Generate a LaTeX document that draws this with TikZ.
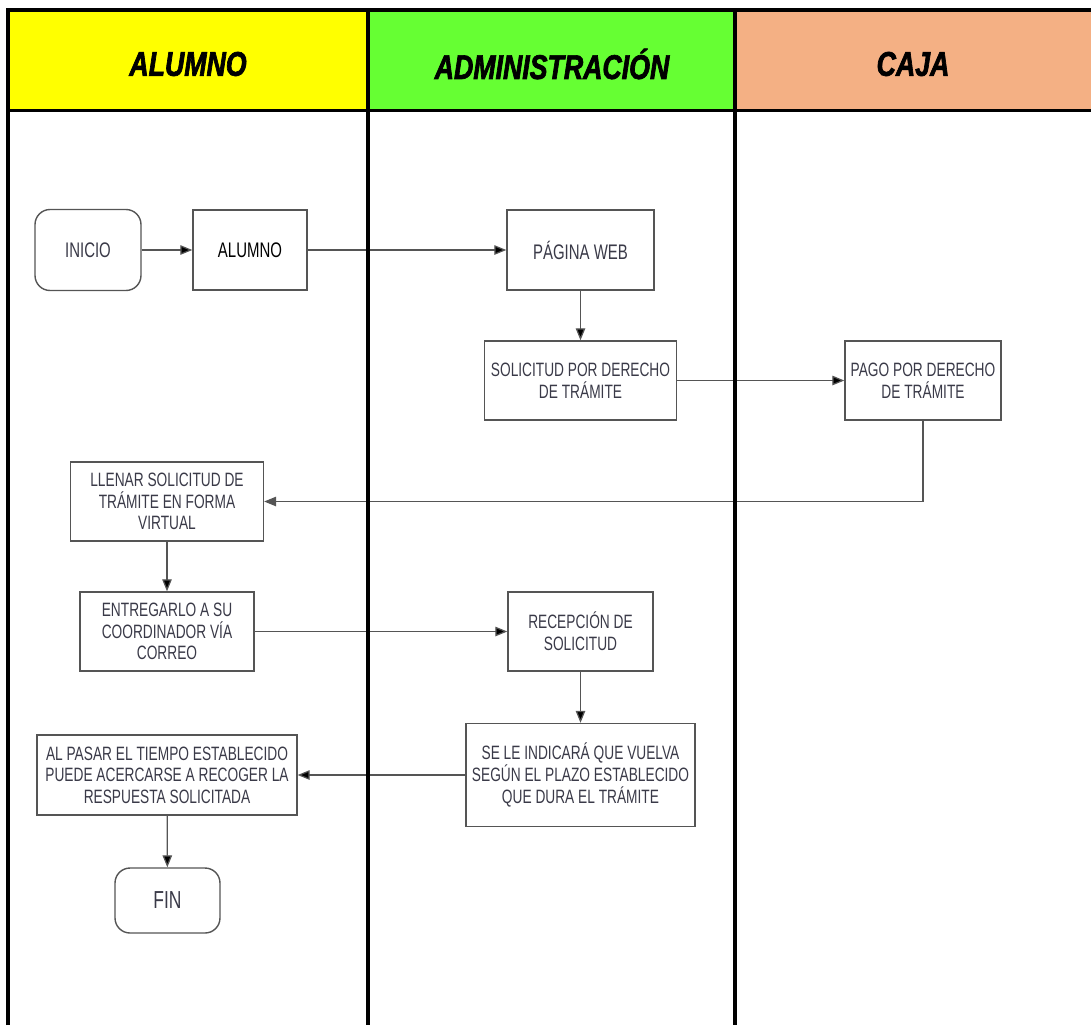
\documentclass[tikz,border=0pt]{standalone}
\usepackage{fontspec}
\usepackage{tikz}
\usetikzlibrary{arrows.meta,positioning}
\setmainfont{Liberation Sans}
\newfontfamily\cajafont{Liberation Sans}[FakeStretch=0.71]
\newfontfamily\carrilfont{Liberation Sans}[FakeStretch=0.78,BoldItalicFeatures={FakeBold=2}]
\definecolor{amarillo}{HTML}{FFFF00}
\definecolor{verde}{HTML}{66FF33}
\definecolor{salmon}{HTML}{F4B084}
\definecolor{textogris}{HTML}{3A3A48}
\definecolor{bordegris}{HTML}{555555}

\begin{document}
\begin{tikzpicture}[x=0.02cm, y=-0.02cm, >={Triangle[length=0.24cm,width=0.19cm]}]
    \tikzstyle{proceso}=[draw=bordegris,line width=0.8pt,fill=white,text=textogris,align=center,inner sep=0pt,font=\cajafont\fontsize{11}{12.3}\selectfont]
    \tikzstyle{terminal}=[proceso,rounded corners=0.3cm]
    \tikzstyle{carril}=[text=black,font=\carrilfont\bfseries\itshape\fontsize{19.5}{22}\selectfont]
    \tikzstyle{flecha}=[draw=bordegris,line width=0.7pt]
    \useasboundingbox (0,0) rectangle (1091,1025);
    % cabecera de los carriles
    \fill[amarillo] (8,10) rectangle (368,110);
    \fill[verde]    (368,10) rectangle (735,110);
    \fill[salmon]   (735,10) rectangle (1091,110);
    \node[carril] (cAlumno) at (188,64)  {ALUMNO};
    \node[carril] (cAdmin)  at (552,64)  {ADMINISTRACIÓN};
    \node[carril] (cCaja)   at (913,64)  {CAJA};
    % pasos
    \node[terminal, minimum width=2.12cm, minimum height=1.62cm, font=\cajafont\fontsize{12}{13}\selectfont] (inicio)    at (88,250)    {INICIO};
    \node[proceso,  minimum width=2.28cm, minimum height=1.6cm, text=black, font=\cajafont\fontsize{12}{13}\selectfont] (alumno) at (250,250) {ALUMNO};
    \node[proceso,  minimum width=2.94cm, minimum height=1.6cm, font=\cajafont\fontsize{12}{13}\selectfont]  (web)      at (580.5,250) {PÁGINA WEB};
    \node[proceso,  minimum width=3.84cm, minimum height=1.58cm] (solicitud) at (580.5,380.5) {SOLICITUD POR DERECHO\\DE TRÁMITE};
    \node[proceso,  minimum width=3.12cm, minimum height=1.58cm] (pago)      at (923,380.5)   {PAGO POR DERECHO\\DE TRÁMITE};
    \node[proceso,  minimum width=3.86cm, minimum height=1.58cm] (llenar)    at (167,501.5)   {LLENAR SOLICITUD DE\\TRÁMITE EN FORMA\\VIRTUAL};
    \node[proceso,  minimum width=3.48cm, minimum height=1.58cm] (entregar)  at (167,631.5)   {ENTREGARLO A SU\\COORDINADOR VÍA\\CORREO};
    \node[proceso,  minimum width=2.9cm,  minimum height=1.58cm] (recepcion) at (580.5,631.5) {RECEPCIÓN DE\\SOLICITUD};
    \node[proceso,  minimum width=4.58cm, minimum height=2.06cm] (indicar)   at (580.5,775)   {SE LE INDICARÁ QUE VUELVA\\SEGÚN EL PLAZO ESTABLECIDO\\QUE DURA EL TRÁMITE};
    \node[proceso,  minimum width=5.2cm,  minimum height=1.6cm]  (pasar)     at (167,775)     {AL PASAR EL TIEMPO ESTABLECIDO\\PUEDE ACERCARSE A RECOGER LA\\RESPUESTA SOLICITADA};
    \node[terminal, minimum width=2.1cm,  minimum height=1.3cm, font=\cajafont\fontsize{14}{15}\selectfont] (fin) at (167.5,900.5) {FIN};
    \path[->, flecha]
(inicio)    edge (alumno)
(alumno)    edge (web)
(web)       edge (solicitud)
(solicitud) edge (pago)
(llenar)    edge (entregar)
(entregar)  edge (recepcion)
(recepcion) edge (indicar)
(indicar)   edge (pasar)
(pasar)     edge (fin);
    \draw[->, flecha] (pago.south) |- (llenar.east);
    % marco y divisiones
    \draw[line width=0.06cm] (8,110) -- (1091,110);
    \draw[line width=0.08cm] (8,1025) -- (8,10) -- (1091,10);
    \draw[line width=0.08cm] (368,10) -- (368,1025) (735,10) -- (735,1025);
\end{tikzpicture}
\end{document}
